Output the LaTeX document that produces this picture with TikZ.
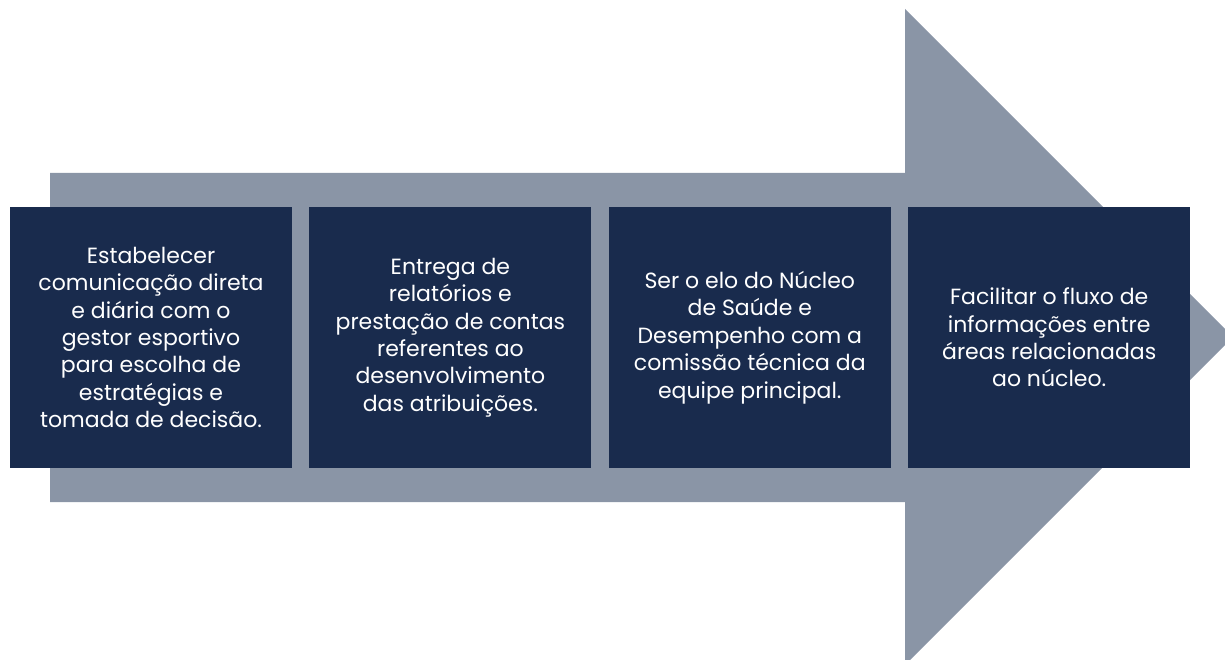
\documentclass[tikz,border=0pt]{standalone}
\usepackage{fontspec}
\setsansfont{Poppins}
\usetikzlibrary{positioning}
\definecolor{arrowgray}{HTML}{8A95A6}
\definecolor{boxnavy}{HTML}{192B4D}

\begin{document}
\begin{tikzpicture}
[
x=1pt,y=-1pt,
task/.style={fill=boxnavy,text=white,minimum width=282pt,minimum height=261pt,
            inner sep=0pt,align=center,font=\sffamily\fontsize{22}{27.4}\selectfont},
]
\useasboundingbox (0,0) rectangle (1225,660);
\clip (0,0) rectangle (1225,660);

%Draw the arrow
\fill[arrowgray] (50,173) -- (905,173) -- (905,9) -- (1233,337) -- (905,665)
            -- (905,502) -- (50,502) -- cycle;

%Place the nodes
\node[task] (est) at (151,337.5) {Estabelecer\\comunicação direta\\e diária com o\\gestor esportivo\\para escolha de\\estratégias e\\tomada de decisão.};
\node[task,right=17pt of est] (ent) {Entrega de\\relatórios e\\prestação de contas\\referentes ao\\desenvolvimento\\das atribuições.};
\node[task,right=17pt of ent] (elo) {Ser o elo do Núcleo\\de Saúde e\\Desempenho com a\\comissão técnica da\\equipe principal.};
\node[task,right=17pt of elo] (flu) {Facilitar o fluxo de\\informações entre\\áreas relacionadas\\ao núcleo.};
\end{tikzpicture}
\end{document}
